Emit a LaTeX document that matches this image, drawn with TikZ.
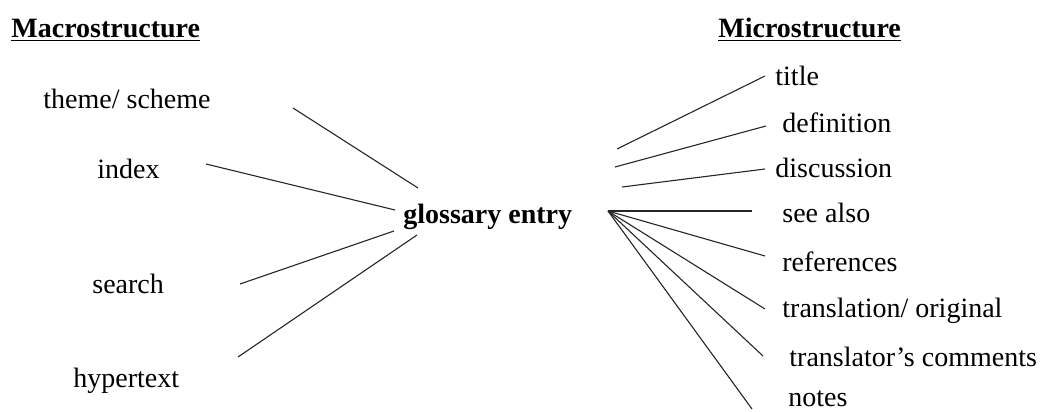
\documentclass[tikz,border=0pt]{standalone}
\usepackage{fontspec}
\setmainfont{Liberation Serif}
\usetikzlibrary{positioning}

\begin{document}
\begin{tikzpicture}[
        x=0.5pt, y=-0.5pt,
        item/.style={anchor=base west, inner sep=0pt, font=\fontsize{14}{17}\selectfont},
        heading/.style={item, font=\fontsize{14}{17}\selectfont\bfseries},
        entry/.style={item, font=\fontsize{14}{17}\selectfont\bfseries},
        edge/.style={line width=0.55pt, black!85}
    ]
    \useasboundingbox (0,0) rectangle (1040,412);

    % Knoten
    \node[heading] (macro) at (11,37) {\underline{Macrostructure}};
    \node[heading] (micro) at (718,37) {\underline{Microstructure}};
    \node[entry] (gloss) at (403,223) {glossary entry};

    \node[item] (theme) at (43,108) {theme/ scheme};
    \node[item] (index) at (97,178) {index};
    \node[item] (search) at (92,293) {search};
    \node[item] (hyper) at (73,387) {hypertext};

    \node[item] (title) at (775,85) {title};
    \node[item] (defn) at (782,132) {definition};
    \node[item] (disc) at (775,177) {discussion};
    \node[item] (seealso) at (782,222) {see also};
    \node[item] (refs) at (782,271) {references};
    \node[item] (transl) at (782,317) {translation/ original};
    \node[item] (comm) at (789,366) {translator’s comments};
    \node[item] (notes) at (788,406) {notes};

    % Endpunkte
    \coordinate (theme-a) at (293,108);  \coordinate (theme-b) at (418,188);
    \coordinate (index-a) at (206,164);  \coordinate (index-b) at (395,210);
    \coordinate (search-a) at (240,284); \coordinate (search-b) at (394,231);
    \coordinate (hyper-a) at (238,357);  \coordinate (hyper-b) at (417,235);
    \coordinate (title-a) at (617,149);  \coordinate (title-b) at (765,76);
    \coordinate (defn-a) at (615,167);   \coordinate (defn-b) at (766,126);
    \coordinate (disc-a) at (622,187);   \coordinate (disc-b) at (765,169);
    \coordinate (hub) at (608,211);
    \coordinate (seealso-b) at (752,211);
    \coordinate (refs-b) at (765,256);
    \coordinate (transl-b) at (765,309);
    \coordinate (comm-b) at (763,356);
    \coordinate (notes-b) at (752,409);

    % Kanten
    \draw[edge] (theme-a) -- (theme-b);
    \draw[edge] (index-a) -- (index-b);
    \draw[edge] (search-a) -- (search-b);
    \draw[edge] (hyper-a) -- (hyper-b);
    \draw[edge] (title-a) -- (title-b);
    \draw[edge] (defn-a) -- (defn-b);
    \draw[edge] (disc-a) -- (disc-b);
    \draw[edge] (hub) -- (seealso-b);
    \draw[edge] (hub) -- (refs-b);
    \draw[edge] (hub) -- (transl-b);
    \draw[edge] (hub) -- (comm-b);
    \draw[edge] (hub) -- (notes-b);

\end{tikzpicture}
\end{document}
